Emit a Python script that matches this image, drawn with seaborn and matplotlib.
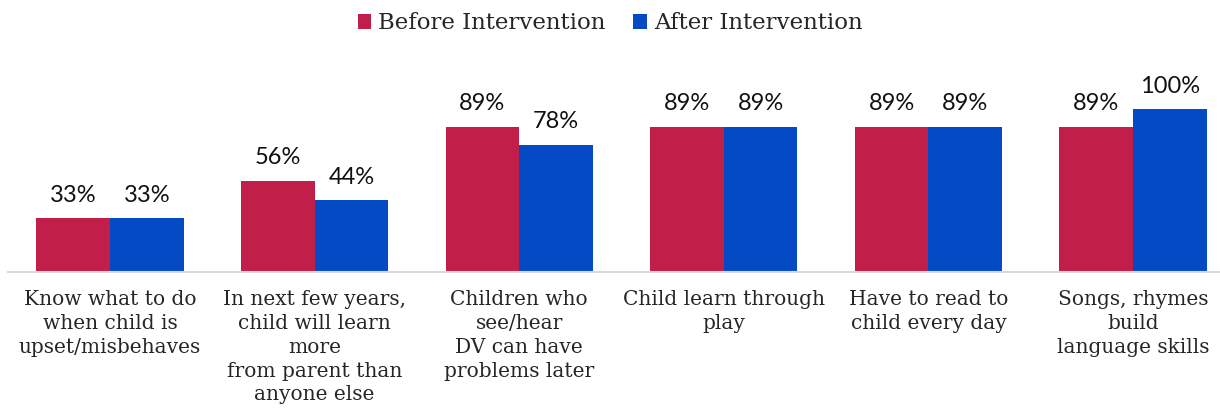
import pandas as pd
import matplotlib.pyplot as plt
import seaborn as sns
from matplotlib.patches import Patch

# -----------------------------
# DATA
# -----------------------------
categories = [
    "Know what to do\nwhen child is\nupset/misbehaves",
    "In next few years,\nchild will learn\nmore\nfrom parent than\nanyone else",
    "Children who\nsee/hear\nDV can have\nproblems later",
    "Child learn through\nplay",
    "Have to read to\nchild every day",
    "Songs, rhymes\nbuild\nlanguage skills",
]
before = [33, 56, 89, 89, 89, 89]
after = [33, 44, 78, 89, 89, 100]
series = ["Before Intervention", "After Intervention"]
colors = ["#C21E4A", "#044AC4"]

df = pd.DataFrame({
    "category": categories * 2,
    "group": [series[0]] * len(categories) + [series[1]] * len(categories),
    "value": before + after,
})

# -----------------------------
# PLOT
# -----------------------------
sns.set_style("white")
plt.rcParams["font.family"] = ["DejaVu Serif"]

fig = plt.figure(figsize=(12.2, 4.11), dpi=100)
ax = fig.add_axes([8 / 1220, 0.338, 1212 / 1220, 0.476])

sns.barplot(
    data=df, x="category", y="value", hue="group",
    palette=colors, width=0.72, ax=ax, legend=False,
    saturation=1, edgecolor="none",
)

for cont in ax.containers:
    ax.bar_label(cont, labels=[f"{v:.0f}%" for v in cont.datavalues],
                 padding=9, fontsize=17, family="Lato", color="#111111")

ax.set_xlim(-0.4985, 5.425)
ax.set_ylim(0, 120)
ax.set_yticks([])
ax.set_xlabel("")
ax.set_ylabel("")
ax.tick_params(axis="x", length=0, pad=13)
for lbl in ax.get_xticklabels():
    lbl.set_fontsize(14.5)
    lbl.set_linespacing(1.32)
    lbl.set_va("top")

for side in ["top", "right", "left"]:
    ax.spines[side].set_visible(False)
ax.spines["bottom"].set_color("#D9D9D9")
ax.spines["bottom"].set_linewidth(1.5)

handles = [Patch(facecolor=c, edgecolor="none") for c in colors]
fig.legend(handles, series, loc="upper center", bbox_to_anchor=(0.5, 1.02),
           ncol=2, frameon=False, fontsize=16.5, handlelength=0.6,
           handleheight=0.6, handletextpad=0.3, columnspacing=1.2)

plt.savefig("out.png", dpi=100)
plt.close()
